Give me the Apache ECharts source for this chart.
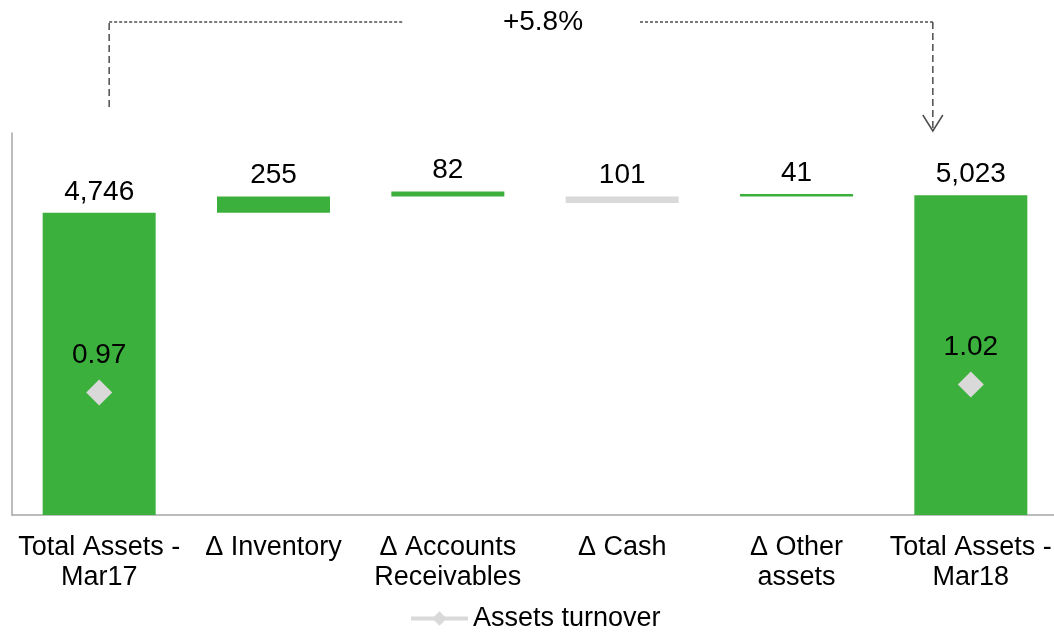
<!DOCTYPE html>
<html>
<head>
<meta charset="utf-8">
<script src="https://cdn.jsdelivr.net/npm/echarts@6/dist/echarts.min.js"></script>
<style>
  body { margin: 0; padding: 0; background: #fff; }
  #chart { width: 1054px; height: 632px; }
</style>
</head>
<body>
<div id="chart"></div>
<script>
// categories along the x axis
var categories = ["Total Assets -\nMar17", "Δ Inventory", "Δ Accounts\nReceivables", "Δ Cash", "Δ Other\nassets", "Total Assets -\nMar18"];
// bar sizes (the labelled values)
var amounts = [4746, 255, 82, 101, 41, 5023];
// where each floating bar starts
var bases = [0, 4746, 5001, 4900, 5002, 0];
// which bars are decreases (drawn grey)
var isDecrease = [false, false, false, true, false, false];
// assets turnover, shown only on the two totals
var turnover = [0.97, null, null, null, null, 1.02];
var changeText = "+5.8%";

var green = "#3cb03c";
var grey = "#d9d9d9";
var font = "Liberation Sans, Arial, sans-serif";

var chart = echarts.init(document.getElementById("chart"));

var option = {
  animation: false,
  textStyle: { fontFamily: font },
  grid: { left: 12, width: 1046, top: 133, bottom: 117, outerBoundsMode: "none", containLabel: false },
  legend: {
    data: ["Assets turnover"],
    top: 600,
    left: 404,
    itemWidth: 57,
    itemHeight: 18,
    lineStyle: { width: 4 },
    textStyle: { fontSize: 27, color: "#000", fontFamily: font }
  },
  xAxis: {
    type: "category",
    data: categories,
    axisTick: { show: false },
    axisLine: { lineStyle: { color: "#a6a6a6", width: 1.5 } },
    axisLabel: {
      margin: 18,
      fontSize: 27,
      lineHeight: 30,
      color: "#000",
      fontFamily: font,
      interval: 0
    }
  },
  yAxis: [
    {
      type: "value",
      min: 0,
      max: 6000,
      splitLine: { show: false },
      axisLabel: { show: false },
      axisTick: { show: false },
      axisLine: { show: true, lineStyle: { color: "#a6a6a6", width: 1.5 } }
    },
    {
      type: "value",
      min: 0.2,
      max: 2.6,
      show: false,
      splitLine: { show: false }
    }
  ],
  series: [
    {
      name: "base",
      type: "bar",
      stack: "wf",
      barWidth: 113,
      itemStyle: { color: "transparent" },
      emphasis: { disabled: true },
      data: bases
    },
    {
      name: "amount",
      type: "bar",
      stack: "wf",
      barWidth: 113,
      data: amounts.map(function (v, i) {
        return { value: v, itemStyle: { color: isDecrease[i] ? grey : green } };
      }),
      label: {
        show: true,
        position: "top",
        distance: 7,
        fontSize: 28,
        color: "#000",
        fontFamily: font,
        formatter: function (p) { return p.value.toLocaleString("en-US"); }
      }
    },
    {
      name: "Assets turnover",
      type: "line",
      yAxisIndex: 1,
      data: turnover,
      connectNulls: false,
      symbol: "diamond",
      symbolSize: 26,
      itemStyle: { color: grey },
      lineStyle: { color: grey, width: 4 },
      label: {
        show: true,
        position: "top",
        distance: 10,
        fontSize: 28,
        color: "#000",
        fontFamily: font,
        formatter: function (p) { return p.value.toFixed(2); }
      }
    }
  ]
};

chart.setOption(option);

// bracket annotation between the two totals
var x0 = chart.convertToPixel({ xAxisIndex: 0 }, 0) + 10;
var x5 = chart.convertToPixel({ xAxisIndex: 0 }, 5) - 38;
var topY = 22;
var dashColor = "#4d4d4d";
var textX = (x0 + x5) / 2 + 22;

chart.setOption({
  graphic: [
    { type: "line", shape: { x1: x0, y1: 107, x2: x0, y2: topY },
      style: { stroke: dashColor, lineWidth: 1.5, lineDash: [7, 4] } },
    { type: "line", shape: { x1: x0, y1: topY, x2: textX - 140, y2: topY },
      style: { stroke: dashColor, lineWidth: 1.5, lineDash: [3, 2] } },
    { type: "text", x: textX, y: topY, style: {
        text: changeText, fontSize: 28, fontFamily: font, fill: "#000",
        align: "center", verticalAlign: "middle" } },
    { type: "line", shape: { x1: textX + 97, y1: topY, x2: x5, y2: topY },
      style: { stroke: dashColor, lineWidth: 1.5, lineDash: [3, 2] } },
    { type: "line", shape: { x1: x5, y1: topY, x2: x5, y2: 130 },
      style: { stroke: dashColor, lineWidth: 1.5, lineDash: [7, 4] } },
    { type: "polyline", shape: { points: [[x5 - 10, 115], [x5, 131], [x5 + 10, 115]] },
      style: { stroke: dashColor, lineWidth: 1.5, fill: null } }
  ]
});
</script>
</body>
</html>
